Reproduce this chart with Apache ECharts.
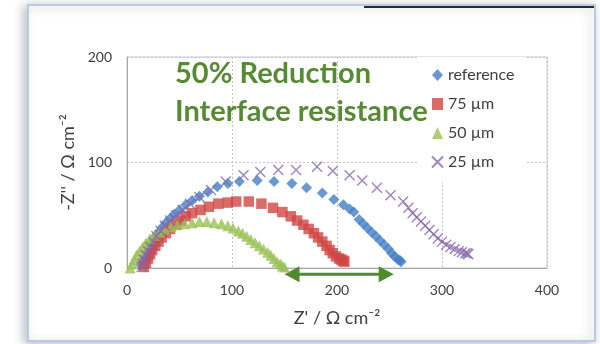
<!DOCTYPE html>
<html>
<head>
<meta charset="utf-8">
<script src="https://cdn.jsdelivr.net/npm/echarts@6/dist/echarts.min.js"></script>
<style>
  html, body { margin: 0; padding: 0; background: #fff; }
  #chart { width: 600px; height: 344px; }
</style>
</head>
<body>
<div id="chart"></div>
<script>
// Nyquist data: [Z', -Z'']
const seriesNames = ['reference', '75 µm', '50 µm', '25 µm'];

const referenceData = [
  [13, 3], [15, 7], [17, 11], [19, 15], [21, 19], [23, 23], [25, 27], [28, 31], [31, 35], [34, 39],
  [37, 43], [41, 47], [45, 51], [50, 55], [56, 60], [62, 64], [69, 68], [77, 72], [86, 77], [96, 80],
  [107, 82], [124, 83], [140, 82], [157, 80], [171, 76], [186, 71], [197, 65], [206, 60], [212, 56],
  [216, 53], [221, 46], [225, 42], [229, 38], [233, 34], [237, 30], [241, 26], [245, 22], [249, 18],
  [252, 14], [255, 11], [258, 8], [260, 7], [261, 6]
];

const um75Data = [
  [16, 1], [18, 5], [20, 9], [22, 13], [24, 17], [27, 21], [30, 25], [33, 29], [37, 33], [41, 37],
  [46, 41], [51, 45], [56, 49], [62, 52], [70, 55], [78, 58], [87, 61], [96, 62], [104, 63], [116, 63],
  [128, 61], [139, 57], [148, 53], [156, 49], [162, 45], [168, 41], [173, 37], [178, 33], [182, 29],
  [186, 25], [190, 21], [193, 17], [196, 14], [199, 11], [202, 9], [204, 8], [206, 7], [207, 6]
];

const um50Data = [
  [3, 0], [5, 4], [7, 8], [9, 12], [12, 16], [15, 20], [18, 24], [22, 28], [26, 31], [31, 34],
  [36, 37], [42, 39], [48, 41], [55, 42], [62, 43], [69, 44], [76, 44], [83, 43], [90, 42], [96, 40],
  [101, 38], [106, 35], [110, 33], [114, 30], [118, 27], [122, 24], [126, 21], [130, 18], [134, 15],
  [137, 12], [140, 9], [143, 6], [146, 4], [148, 2], [150, 1]
];

const um25Data = [
  [14, 1], [15, 4], [16, 8], [18, 12], [20, 16], [22, 20], [25, 25], [28, 30], [32, 35], [36, 40],
  [41, 45], [47, 50], [53, 55], [60, 61], [69, 67], [80, 74], [94, 82], [111, 88], [127, 91], [144, 93],
  [161, 93], [181, 96], [196, 92], [212, 88], [224, 83], [238, 76], [251, 69], [263, 63], [268, 57],
  [272, 52], [276, 48], [280, 44], [284, 40], [288, 36], [292, 32], [296, 28], [300, 25], [304, 22],
  [308, 20], [312, 18], [316, 16], [319, 15], [322, 14], [324, 14], [325, 13]
];

// double arrow showing the drop in interface resistance: [x1, y1, x2, y2]
const arrowData = [[150, -6, 254, -6]];

const annotationLines = ['50% Reduction', 'Interface resistance'];

const xTicks = { min: 0, max: 400, interval: 100 };
const yTicks = { min: 0, max: 200, interval: 100 };

const chart = echarts.init(document.getElementById('chart'), null, { renderer: 'canvas' });

const baseFont = 'Lato, "Open Sans", sans-serif';
const arrowGreen = '#4f8a2e';
const gridLine = { show: true, lineStyle: { color: '#c4c4c4', type: [2, 2], width: 1 } };

function renderArrow(params, api) {
  const a = api.coord([api.value(0), api.value(1)]);
  const b = api.coord([api.value(2), api.value(3)]);
  const head = 15, half = 8;
  return {
    type: 'group',
    children: [
      {
        type: 'line',
        shape: { x1: a[0] + head - 2, y1: a[1], x2: b[0] - head + 2, y2: b[1] },
        style: { stroke: arrowGreen, lineWidth: 3 }
      },
      {
        type: 'polygon',
        shape: { points: [[a[0], a[1]], [a[0] + head, a[1] - half], [a[0] + head, a[1] + half]] },
        style: { fill: arrowGreen }
      },
      {
        type: 'polygon',
        shape: { points: [[b[0], b[1]], [b[0] - head, b[1] - half], [b[0] - head, b[1] + half]] },
        style: { fill: arrowGreen }
      }
    ]
  };
}

const option = {
  animation: false,
  backgroundColor: '#fff',
  textStyle: { fontFamily: baseFont },
  graphic: [
    {
      type: 'rect', z: -10,
      shape: { x: 28, y: 5, width: 567, height: 336 },
      style: {
        fill: '#fff', stroke: '#b9cae3', lineWidth: 2,
        shadowColor: 'rgba(60,70,90,0.35)', shadowBlur: 10, shadowOffsetX: -3, shadowOffsetY: 2
      }
    },
    {
      type: 'line', z: -5,
      shape: { x1: 364, y1: 7, x2: 594, y2: 7 },
      style: { stroke: '#2b2b2b', lineWidth: 2 }
    },
    {
      type: 'text', left: 175, top: 59, z: 100,
      style: { text: annotationLines[0], fill: '#568a34', font: 'bold 29px ' + baseFont }
    },
    {
      type: 'text', left: 175, top: 97, z: 100,
      style: { text: annotationLines[1], fill: '#568a34', font: 'bold 29px ' + baseFont }
    }
  ],
  grid: {
    left: 127, right: 53, top: 57, bottom: 76,
    show: true, borderColor: '#c8c8c8', borderWidth: 1
  },
  legend: {
    orient: 'vertical',
    left: 417, top: 57,
    padding: [10, 12, 12, 14],
    backgroundColor: '#fff',
    itemWidth: 11, itemHeight: 12, itemGap: 13,
    data: seriesNames,
    textStyle: { color: '#404040', fontSize: 16, lineHeight: 16, fontFamily: baseFont }
  },
  xAxis: {
    type: 'value',
    min: xTicks.min, max: xTicks.max, interval: xTicks.interval,
    name: "Z' / Ω cm⁻²",
    nameLocation: 'middle', nameGap: 41,
    nameTextStyle: { color: '#404040', fontSize: 18, fontFamily: baseFont },
    axisLine: { show: true, lineStyle: { color: '#a6a6a6' } },
    axisTick: { show: false },
    axisLabel: { color: '#404040', fontSize: 14, margin: 15 },
    splitLine: gridLine
  },
  yAxis: {
    type: 'value',
    min: yTicks.min, max: yTicks.max, interval: yTicks.interval,
    name: "-Z'' / Ω cm⁻²",
    nameLocation: 'middle', nameGap: 41, nameRotate: 90,
    nameTextStyle: { color: '#404040', fontSize: 18, fontFamily: baseFont },
    axisLine: { show: true, lineStyle: { color: '#a6a6a6' } },
    axisTick: { show: false },
    axisLabel: { color: '#404040', fontSize: 14, margin: 15 },
    splitLine: gridLine
  },
  series: [
    {
      name: seriesNames[0], type: 'scatter', data: referenceData,
      symbol: 'diamond', symbolSize: 11,
      itemStyle: { color: '#4580c6' }
    },
    {
      name: seriesNames[1], type: 'scatter', data: um75Data,
      symbol: 'rect', symbolSize: 10.5,
      itemStyle: { color: '#cf4644' }
    },
    {
      name: seriesNames[2], type: 'scatter', data: um50Data,
      symbol: 'triangle', symbolSize: 11,
      itemStyle: { color: '#9bbf55' }
    },
    {
      name: seriesNames[3], type: 'scatter', data: um25Data,
      symbol: 'path://M0,0L10,10M10,0L0,10', symbolSize: 10,
      itemStyle: { color: 'rgba(0,0,0,0)', borderColor: '#8668ad', borderWidth: 1.4 }
    },
    {
      type: 'custom', data: arrowData, clip: false, silent: true,
      encode: { x: [0, 2], y: [1, 3] },
      renderItem: renderArrow
    }
  ]
};

chart.setOption(option);
</script>
</body>
</html>
